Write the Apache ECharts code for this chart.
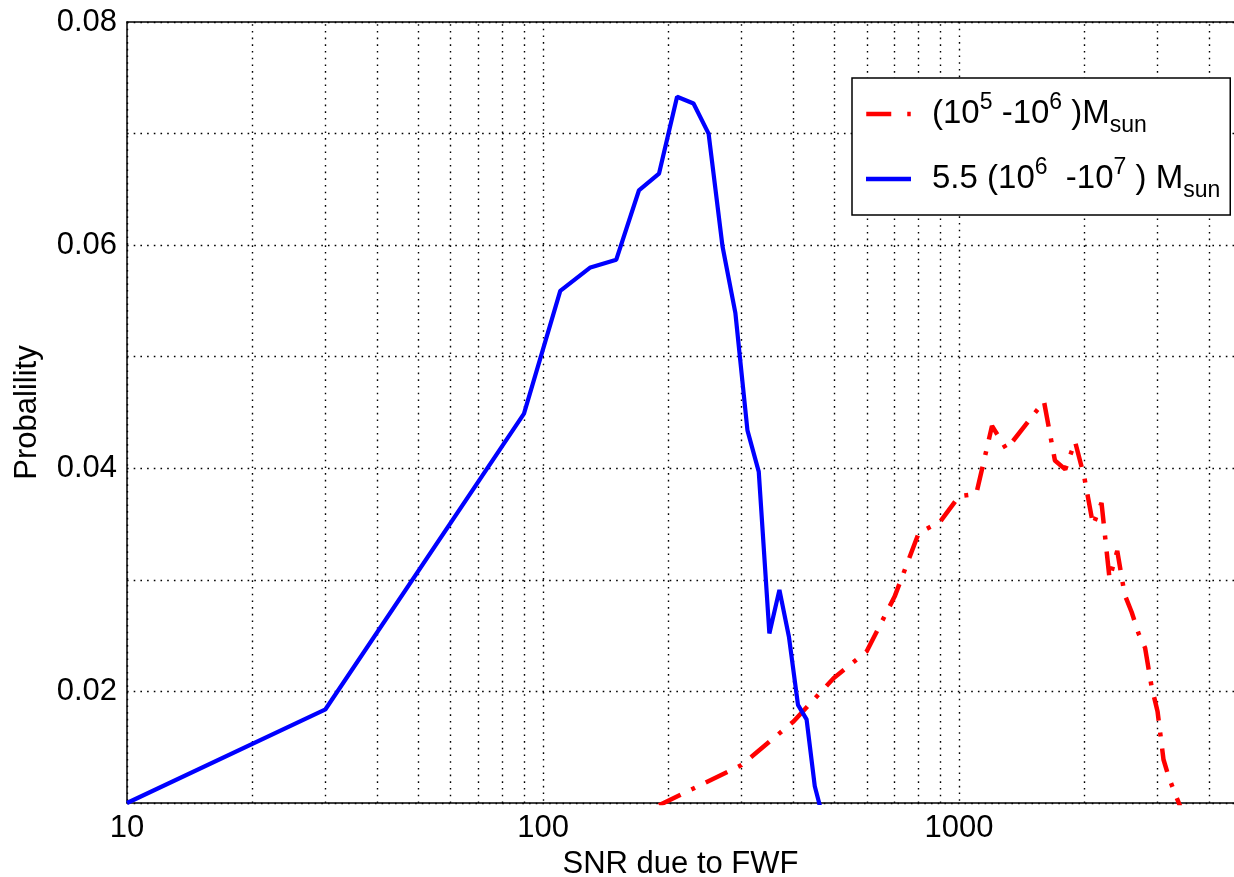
<!DOCTYPE html>
<html>
<head>
<meta charset="utf-8">
<script src="https://cdn.jsdelivr.net/npm/echarts@6/dist/echarts.min.js"></script>
<style>
  html, body { margin: 0; padding: 0; background: #fff; }
  #chart { width: 1234px; height: 877px; }
</style>
</head>
<body>
<div id="chart"></div>
<script>
// ---- data ----
const blueX = [10, 30, 90, 110, 130, 150, 170, 190, 210, 230, 250, 270, 290, 310, 330, 350, 370, 390, 410, 430, 450, 470];
const blueY = [0.0100, 0.0184, 0.0449, 0.0559, 0.0580, 0.0587, 0.0649, 0.0664, 0.0733, 0.0727, 0.0700, 0.0599, 0.0539, 0.0434, 0.0397, 0.0252, 0.0291, 0.0249, 0.0188, 0.0175, 0.0115, 0.0088];

const redX = [190, 300, 400, 500, 600, 700, 800, 900, 1000, 1100, 1200, 1300, 1600, 1700, 1800, 1900, 2000, 2100, 2200, 2300, 2400, 2500, 2600, 2700, 2800, 2900, 3000, 3100, 3200, 3300, 3400];
const redY = [0.0098, 0.0134, 0.0173, 0.0212, 0.0236, 0.0285, 0.0342, 0.0352, 0.0375, 0.0377, 0.0438, 0.0417, 0.0460, 0.0407, 0.0399, 0.0424, 0.0392, 0.0349, 0.0369, 0.0301, 0.0326, 0.0287, 0.0271, 0.0252, 0.0239, 0.0205, 0.0182, 0.0139, 0.0122, 0.0109, 0.0097];

const xMajorLabels = [10, 100, 1000];
const minorGridX = [20, 30, 40, 50, 60, 70, 80, 90, 200, 300, 400, 500, 600, 700, 800, 900, 2000, 3000, 4000];
const yTickLabels = [0.02, 0.04, 0.06, 0.08];

const redName = 'red: (10^5-10^6) Msun';
const blueName = 'blue: 5.5 (10^6-10^7) Msun';

// ---- chart ----
const FONT = '"Liberation Sans", Arial, Helvetica, sans-serif';
const chart = echarts.init(document.getElementById('chart'));

const dotted = { color: '#000', width: 1.4, type: [1.6, 5.1] };
const axisFont = 31;

chart.setOption({
  animation: false,
  backgroundColor: '#fff',
  textStyle: { fontFamily: FONT, color: '#000' },
  grid: { left: 127, top: 22, bottom: 74, right: 0, show: false, containLabel: false, outerBoundsMode: 'none' },
  legend: {
    left: 852, top: 78,
    orient: 'vertical',
    itemWidth: 45, itemHeight: 4.5, itemGap: 19,
    padding: [13, 10, 13, 14],
    backgroundColor: '#fff', borderColor: '#000', borderWidth: 1.5,
    selectedMode: false,
    data: [
      { name: redName, icon: 'path://M0,0H25V4.5H0Z M41,0H44.5V4.5H41Z', itemStyle: { color: '#ff0000', opacity: 1 } },
      { name: blueName, icon: 'rect', itemStyle: { color: '#0000ff', opacity: 1 } }
    ],
    formatter: function (name) {
      if (name === redName) {
        return '{sp|}{n|(10}{sup|5}{n| -10}{sup|6}{n| )M}{sub|sun}';
      }
      return '{sp|}{n|5.5 (10}{sup|6}{n|  -10}{sup|7}{n| ) M}{sub|sun}';
    },
    textStyle: {
      color: '#000', fontFamily: FONT,
      rich: {
        sp: { width: 16, height: 10 },
        n: { fontSize: 33, lineHeight: 46, verticalAlign: 'middle', fontFamily: FONT, color: '#000' },
        sup: { fontSize: 23, lineHeight: 18, verticalAlign: 'top', fontFamily: FONT, color: '#000' },
        sub: { fontSize: 23, lineHeight: 16, verticalAlign: 'bottom', fontFamily: FONT, color: '#000' }
      }
    }
  },
  xAxis: [
    {
      type: 'log', logBase: 10, min: 10, max: 4580,
      name: 'SNR due to FWF', nameLocation: 'middle', nameGap: 44,
      nameTextStyle: { fontSize: axisFont, fontFamily: FONT, color: '#000' },
      axisLine: { show: true, lineStyle: { color: '#000', width: 1.5 } },
      axisTick: { show: false },
      axisLabel: {
        fontSize: axisFont, color: '#000', fontFamily: FONT, margin: 10,
        showMaxLabel: false,
        formatter: function (v) {
          const r = Math.round(v);
          return xMajorLabels.indexOf(r) >= 0 ? String(r) : '';
        }
      },
      splitLine: { show: true, showMaxLine: false, lineStyle: dotted },
      minorTick: { show: false }, minorSplitLine: { show: false }
    },
    {
      type: 'log', logBase: 10, min: 10, max: 4580, position: 'top',
      axisLine: { show: true, lineStyle: { color: '#000', width: 1.5 } },
      axisTick: { show: false }, axisLabel: { show: false }, splitLine: { show: false }
    }
  ],
  yAxis: {
    type: 'value', min: 0.01, max: 0.08, interval: 0.01,
    name: 'Probalility', nameLocation: 'middle', nameGap: 84, nameRotate: 90,
    nameTextStyle: { fontSize: axisFont, fontFamily: FONT, color: '#000' },
    axisLine: { show: true, lineStyle: { color: '#000', width: 1.5 } },
    axisTick: { show: false },
    axisLabel: {
      fontSize: axisFont, color: '#000', fontFamily: FONT, margin: 10,
      formatter: function (v) {
        const r = Math.round(v * 100) / 100;
        return yTickLabels.indexOf(r) >= 0 ? r.toFixed(2) : '';
      }
    },
    splitLine: { show: true, lineStyle: dotted }
  },
  series: [
    {
      name: redName, type: 'line', z: 3,
      data: redX.map((x, i) => [x, redY[i]]),
      symbol: 'none', clip: true,
      lineStyle: { color: '#ff0000', width: 4.5, type: [24, 12, 4, 12], cap: 'butt' },
      itemStyle: { color: '#ff0000' }
    },
    {
      name: blueName, type: 'line', z: 4,
      data: blueX.map((x, i) => [x, blueY[i]]),
      symbol: 'none', clip: true,
      lineStyle: { color: '#0000ff', width: 4.2 },
      itemStyle: { color: '#0000ff' },
      markLine: {
        silent: true, symbol: 'none', z: 1,
        label: { show: false },
        lineStyle: dotted,
        emphasis: { disabled: true },
        data: minorGridX.map(v => ({ xAxis: v }))
      }
    }
  ]
});
</script>
</body>
</html>
